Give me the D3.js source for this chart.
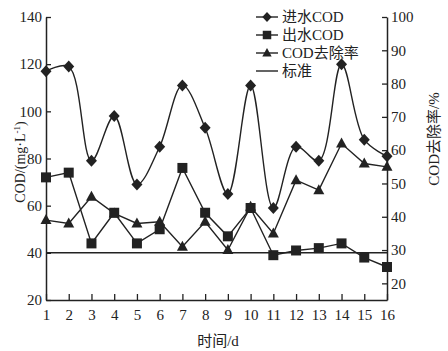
<!DOCTYPE html>
<html>
<head>
<meta charset="utf-8">
<style>
  body { margin: 0; background: #fff; }
  svg text { font-family: "Liberation Serif", "Noto Sans CJK SC", serif; fill: #222; }
</style>
<script src="https://d3js.org/d3.v7.min.js"></script>
</head>
<body>
<svg width="448" height="351"></svg>
<script>
// 时间/d
const days = [1,2,3,4,5,6,7,8,9,10,11,12,13,14,15,16];
// 进水COD (mg/L)
const inflow = [117,119,79,98,69,85,111,93,65,111,59,85,79,120,88,81];
// 出水COD (mg/L)
const outflow = [72,74,44,57,44,50,76,57,47,59,39,41,42,44,38,34];
// COD去除率 (%)
const removal = [39,38,46,41,38,38.5,31,38.5,30,43,35,51,48,62,56,55];
// 标准 (mg/L)
const standard = 40;
const leftTicks = [20,40,60,80,100,120,140];
const rightTicks = [20,30,40,50,60,70,80,90,100];

const svg = d3.select('svg');
const x = d3.scaleLinear().domain([1,16]).range([46,387]);
const yL = d3.scaleLinear().domain([20,140]).range([300,17]);
const yR = d3.scaleLinear().domain([15,100]).range([300,17]);

const ink = '#222';

// axes, ticks pointing inward
const axL = svg.append('g').attr('transform','translate(46,0)')
  .call(d3.axisLeft(yL).tickValues(leftTicks).tickSizeInner(-5).tickSizeOuter(0).tickPadding(4));
const axR = svg.append('g').attr('transform','translate(387,0)')
  .call(d3.axisRight(yR).tickValues(rightTicks).tickSizeInner(-5).tickSizeOuter(0).tickPadding(4));
const axB = svg.append('g').attr('transform','translate(0,300)')
  .call(d3.axisBottom(x).tickValues(days).tickSizeInner(-6).tickSizeOuter(0).tickPadding(6));
[axL, axR, axB].forEach(a => {
  a.select('.domain').attr('stroke', ink).attr('stroke-width', 1.5);
  a.selectAll('.tick line').attr('stroke', ink).attr('stroke-width', 1.3);
  a.selectAll('.tick text').attr('font-family', '"Liberation Serif", serif').attr('font-size', 15).attr('fill', ink);
});
axB.selectAll('.tick text').attr('dy', '0.9em');

// standard line
svg.append('line')
  .attr('x1', x(1)).attr('x2', x(16))
  .attr('y1', yL(standard)).attr('y2', yL(standard))
  .attr('stroke', ink).attr('stroke-width', 1.5);

// series lines
const smooth = d3.line().x((d,i) => x(days[i])).y(d => yL(d)).curve(d3.curveCatmullRom.alpha(0.5));
const straightL = d3.line().x((d,i) => x(days[i])).y(d => yL(d));
const straightR = d3.line().x((d,i) => x(days[i])).y(d => yR(d));

svg.append('path').attr('d', smooth(inflow)).attr('fill','none').attr('stroke',ink).attr('stroke-width',1.4);
svg.append('path').attr('d', straightL(outflow)).attr('fill','none').attr('stroke',ink).attr('stroke-width',1.4);
svg.append('path').attr('d', straightR(removal)).attr('fill','none').attr('stroke',ink).attr('stroke-width',1.4);

// markers
const diamond = 'M0,-6L5.5,0L0,6L-5.5,0Z';
const square = 'M-5,-5H5V5H-5Z';
const triangle = 'M0,-6L5.5,4L-5.5,4Z';

function markers(vals, scale, shape) {
  svg.append('g').selectAll('path').data(vals).join('path')
    .attr('transform', (d,i) => `translate(${x(days[i])},${scale(d)})`)
    .attr('d', shape).attr('fill', ink);
}
markers(inflow, yL, diamond);
markers(outflow, yL, square);
markers(removal, yR, triangle);

// legend
const legend = [
  { name: '进水COD', shape: diamond },
  { name: '出水COD', shape: square },
  { name: 'COD去除率', shape: triangle },
  { name: '标准', shape: null }
];
const lg = svg.append('g').attr('transform','translate(256,17)');
legend.forEach((d,i) => {
  const row = lg.append('g').attr('transform', `translate(0,${i*18})`);
  row.append('line').attr('x1',0).attr('x2',22).attr('stroke',ink).attr('stroke-width',1.4);
  if (d.shape) row.append('path').attr('d', d.shape).attr('transform','translate(11,0) scale(0.85)').attr('fill',ink);
  row.append('text').attr('x',26).attr('dy','0.35em').attr('font-size',15).text(d.name);
});

// axis titles
svg.append('text').attr('transform','translate(20,162) rotate(-90)')
  .attr('text-anchor','middle').attr('dy','0.35em').attr('font-size',14)
  .html('COD/(mg·L<tspan baseline-shift="super" font-size="9">-1</tspan>)');
svg.append('text').attr('transform','translate(434,139) rotate(-90)')
  .attr('text-anchor','middle').attr('dy','0.35em').attr('font-size',15)
  .text('COD去除率/%');
svg.append('text').attr('x',218).attr('y',341)
  .attr('text-anchor','middle').attr('dy','0.35em').attr('font-size',15)
  .text('时间/d');
</script>
</body>
</html>
